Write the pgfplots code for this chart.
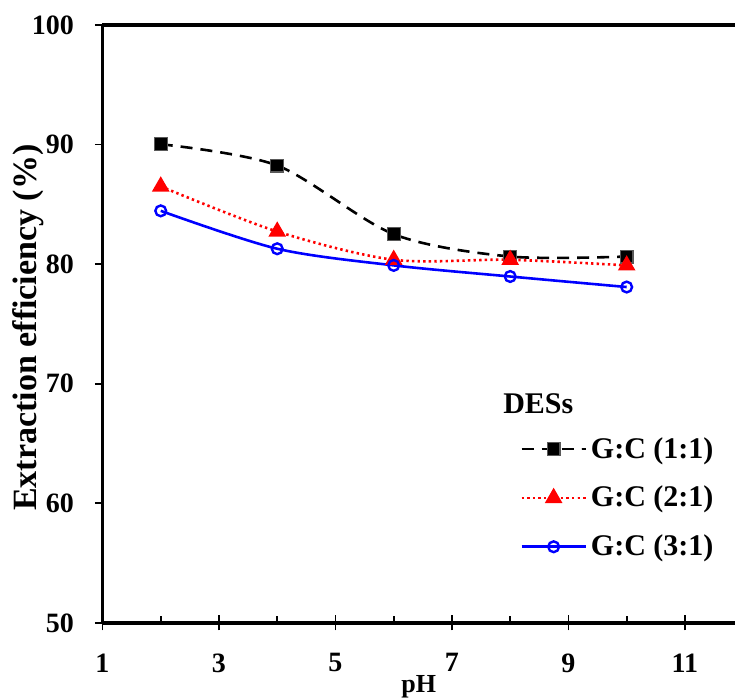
\documentclass[border=0pt]{standalone}
\usepackage{pgfplots}
\pgfplotsset{compat=1.18}
\usepackage{fontspec}
\setmainfont{Liberation Serif}

\begin{document}
\begin{tikzpicture}
\begin{axis}[
    scale only axis,
    width=316.25pt, height=299pt,
    xmin=1, xmax=11.86,
    ymin=50, ymax=100,
    xtick={1,3,5,7,9,11},
    minor xtick={2,4,6,8,10},
    ytick={50,60,70,80,90,100},
    axis y line*=left,
    xtick pos=bottom,
    axis line style={line width=1.6pt},
    tick align=center,
    major tick length=7.5pt,
    minor tick length=3.5pt,
    every tick/.style={black, line width=0.9pt},
    minor x tick style={yshift=1.75pt},
    major y tick style={xshift=-1.75pt, dash pattern=on 0pt off 1.75pt on 4pt off 10pt},
    /pgf/number format/assume math mode=true,
    tick label style={font=\fontsize{14}{16}\selectfont\bfseries},
    xticklabel style={yshift=-8pt},
    yticklabel style={xshift=-7pt},
    xlabel={pH},
    xlabel style={at={(rel axis cs:0.5,0)}, anchor=north, yshift=-26pt, inner sep=0pt,
        font=\fontsize{13}{15}\selectfont\bfseries},
    ylabel={Extraction efficiency (\%)},
    ylabel style={at={(rel axis cs:-0.118,0.494)}, anchor=center,
        font=\fontsize{17}{19}\selectfont\bfseries},
    legend image code/.code={
        \draw[mark repeat=2, mark phase=2, #1] plot coordinates {(0pt,0pt) (16pt,0pt) (32pt,0pt)};
    },
    legend cell align=left,
    legend style={draw=none, fill=none, at={(rel axis cs:0.66,0.318)}, anchor=north west,
        inner sep=0pt, row sep=8.5pt,
        nodes={inner sep=2pt},
        font=\fontsize{15}{17}\selectfont\bfseries},
]

\addplot[black, line width=1.3pt, dash pattern=on 6pt off 4pt, smooth,
    mark=square*, mark size=3.2pt,
    mark options={solid, fill=black, draw=black!65, line width=0.6pt}]
    coordinates {(2,90.03) (4,88.25) (6,82.51) (8,80.64) (10,80.64)};
\addlegendentry{G:C (1:1)}

\addplot[red, line width=1.3pt, dash pattern=on 1.2pt off 1.6pt, smooth,
    mark=triangle*, mark size=3.8pt,
    mark options={solid, fill=red, draw=red}]
    coordinates {(2,86.5) (4,82.73) (6,80.37) (8,80.37) (10,79.9)};
\addlegendentry{G:C (2:1)}

\addplot[blue, line width=1.3pt, smooth,
    mark=o, mark size=2.7pt,
    mark options={solid, fill=white, draw=blue, line width=1.2pt}]
    coordinates {(2,84.46) (4,81.29) (6,79.9) (8,78.97) (10,78.09)};
\addlegendentry{G:C (3:1)}

\node[anchor=base west, inner sep=0pt, font=\fontsize{15}{17}\selectfont\bfseries]
    at (rel axis cs:0.633,0.351) {DESs};

\coordinate (ll) at (rel axis cs:0,0);
\coordinate (ur) at (rel axis cs:1,1);
\end{axis}
\pgfresetboundingbox
\path ([xshift=-51.25pt,yshift=-37.5pt]ll) rectangle ([yshift=12.5pt]ur);
\end{tikzpicture}
\end{document}
